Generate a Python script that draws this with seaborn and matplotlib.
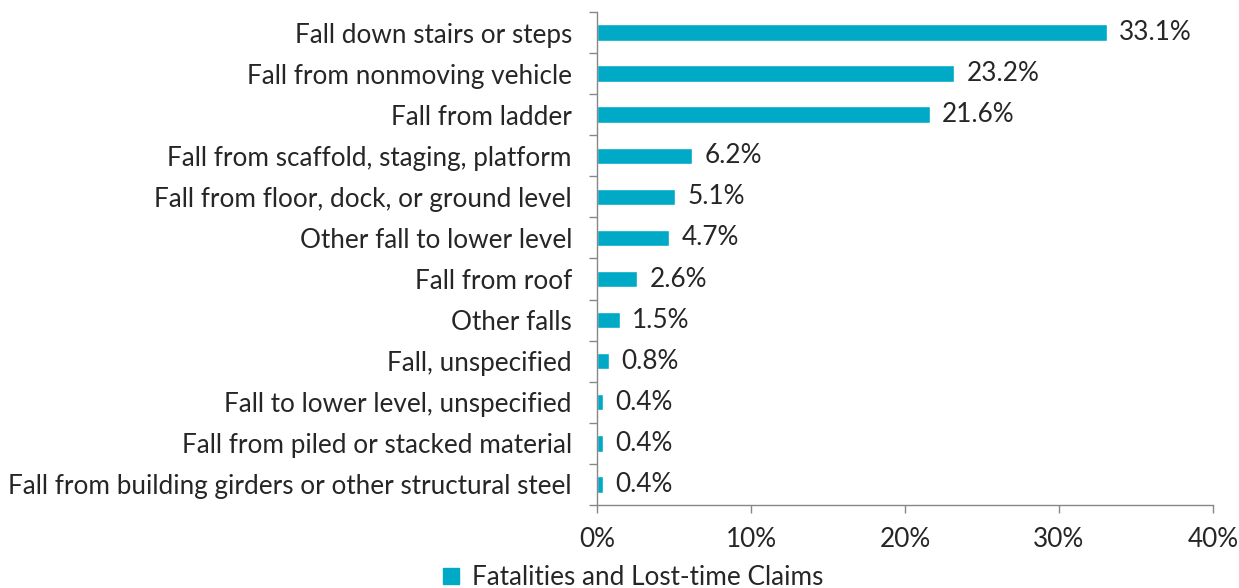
import matplotlib
matplotlib.use("Agg")
import matplotlib.pyplot as plt
import seaborn as sns
import pandas as pd
import numpy as np
from matplotlib.lines import Line2D

categories = [
    "Fall down stairs or steps",
    "Fall from nonmoving vehicle",
    "Fall from ladder",
    "Fall from scaffold, staging, platform",
    "Fall from floor, dock, or ground level",
    "Other fall to lower level",
    "Fall from roof",
    "Other falls",
    "Fall, unspecified",
    "Fall to lower level, unspecified",
    "Fall from piled or stacked material",
    "Fall from building girders or other structural steel",
]
values = [33.1, 23.2, 21.6, 6.2, 5.1, 4.7, 2.6, 1.5, 0.8, 0.4, 0.4, 0.4]
xticks = [0, 10, 20, 30, 40]
series_name = "Fatalities and Lost-time Claims"

sns.set_theme(style="white")
plt.rcParams['font.family'] = ['Lato', 'DejaVu Sans']

color = "#00A9C6"
fs = 18.8
df = pd.DataFrame({"cat": categories, "val": values})

fig = plt.figure(figsize=(12.39, 5.88), dpi=100)
ax = fig.add_axes([0.4818, 0.1412, 0.979 - 0.4818, 0.9796 - 0.1412])
sns.barplot(data=df, x="val", y="cat", color=color, width=0.4, ax=ax, saturation=1)

ax.set_xlim(0, 40)
ax.set_ylim(len(categories) - 0.5, -0.5)
ax.set_xticks(xticks)
ax.set_xticklabels([f"{t}%" for t in xticks], fontsize=fs, color="#262626")
ax.set_xlabel("")
ax.set_ylabel("")
ax.set_yticks(range(len(categories)))
ax.set_yticklabels(categories, fontsize=fs, color="#262626")
ax.tick_params(axis="y", which="major", length=0, pad=18)
ax.set_yticks(np.arange(-0.5, len(categories), 1.0), minor=True)
ax.tick_params(axis="y", which="minor", length=6, color="#878787", width=1, left=True)
ax.tick_params(axis="x", which="major", length=6, color="#878787", width=1, bottom=True, pad=10)

for s in ["top", "right"]:
    ax.spines[s].set_visible(False)
for s in ["left", "bottom"]:
    ax.spines[s].set_color("#878787")
    ax.spines[s].set_linewidth(1)

for i, v in enumerate(values):
    ax.text(v + 0.8, i, f"{v:.1f}%", va="center", ha="left", fontsize=fs, color="#262626")

handle = Line2D([], [], marker="s", linestyle="none", markersize=12, color=color)
fig.legend([handle], [series_name], loc="center", bbox_to_anchor=(0.51, 0.018),
           frameon=False, fontsize=fs, handlelength=0.8, handletextpad=0.4,
           labelcolor="#262626")

fig.savefig("out.png", dpi=100)
